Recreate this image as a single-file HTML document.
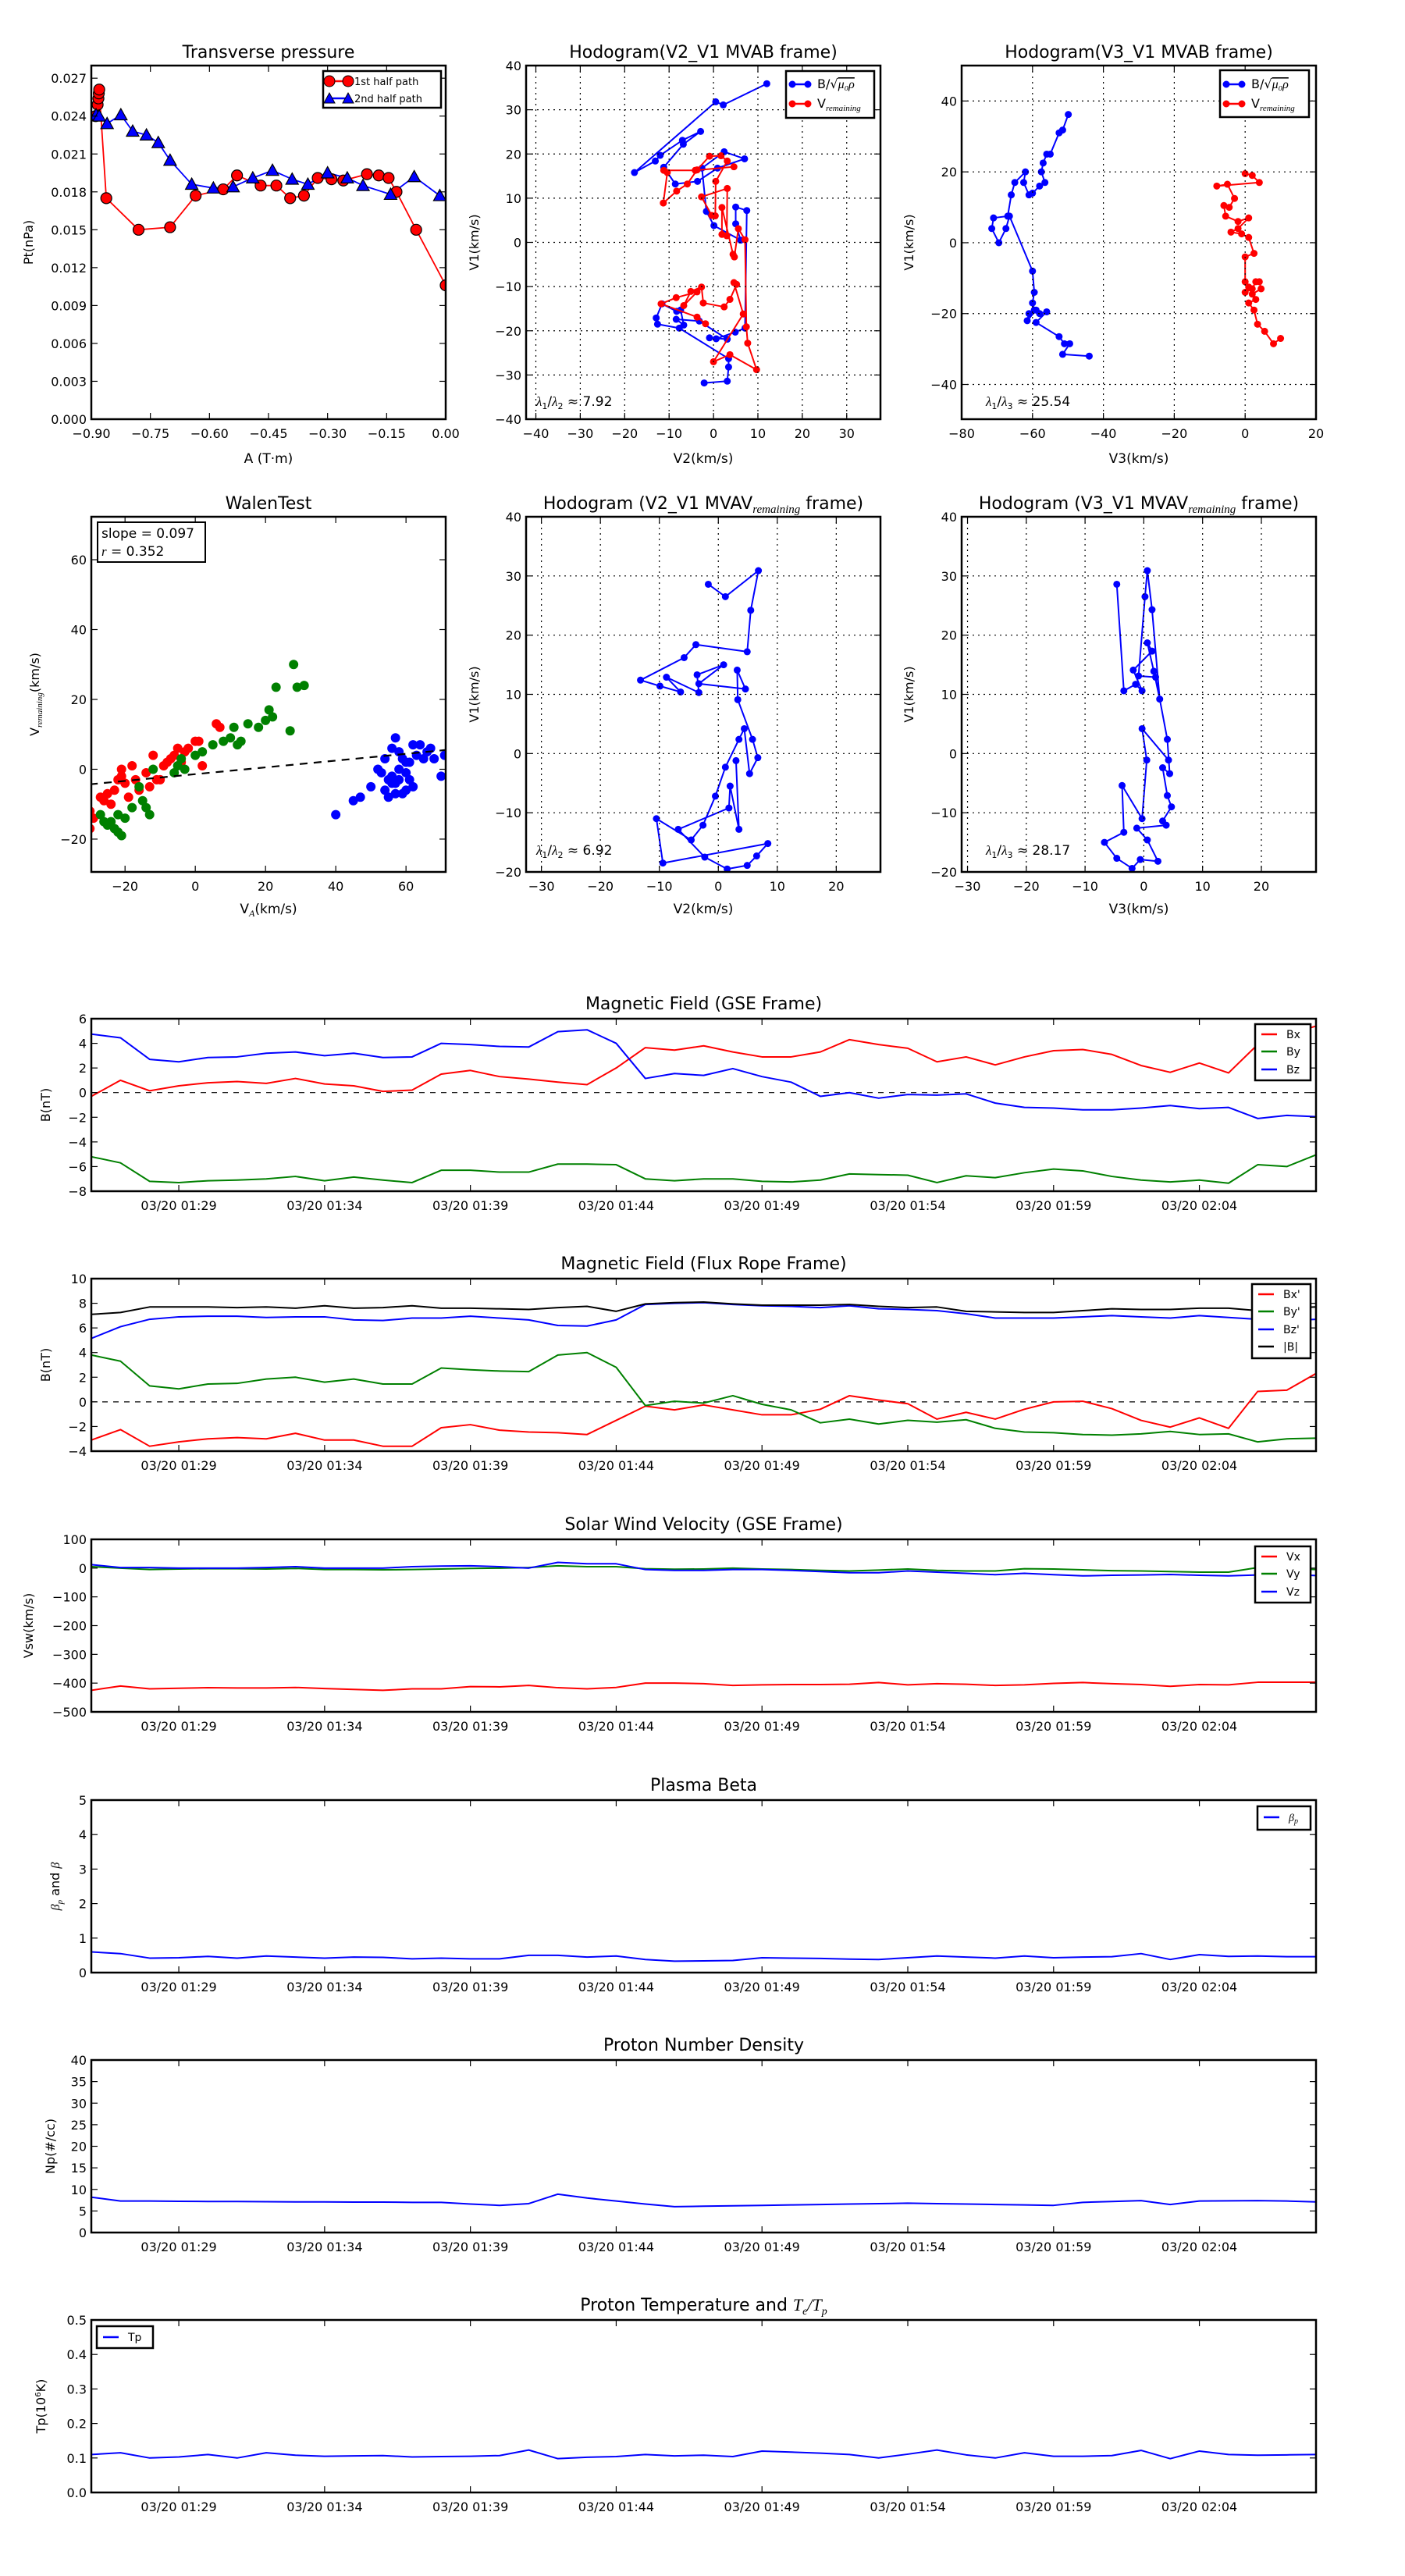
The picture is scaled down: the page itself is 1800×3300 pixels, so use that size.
<!DOCTYPE html>
<html><head><meta charset="utf-8">
<style>
html,body{margin:0;padding:0;background:#fff;}
svg{display:block;font-family:"DejaVu Sans","Liberation Sans",sans-serif;}
</style></head>
<body>
<svg id="fig" width="1800" height="3300" viewBox="0 0 1800 3300" xmlns="http://www.w3.org/2000/svg">
<rect x="0" y="0" width="1800" height="3300" fill="#fff"/>
</svg>
<script>
// ===== Data =====
const timeTicks=[3,8,13,18,23,28,33,38];
const timeLabels=["03/20 01:29","03/20 01:34","03/20 01:39","03/20 01:44","03/20 01:49","03/20 01:54","03/20 01:59","03/20 02:04"];
const bxGse=[-0.3,1.0,0.15,0.55,0.8,0.9,0.75,1.15,0.7,0.55,0.1,0.2,1.5,1.8,1.3,1.1,0.85,0.65,2.0,3.65,3.45,3.8,3.3,2.9,2.9,3.3,4.3,3.9,3.6,2.5,2.9,2.25,2.9,3.4,3.5,3.1,2.2,1.65,2.4,1.6,3.9,4.7,5.4];
const byGse=[-5.2,-5.7,-7.2,-7.3,-7.15,-7.1,-7.0,-6.8,-7.15,-6.85,-7.1,-7.3,-6.3,-6.3,-6.45,-6.45,-5.8,-5.8,-5.85,-7.0,-7.15,-7.0,-7.0,-7.2,-7.25,-7.1,-6.6,-6.65,-6.7,-7.3,-6.75,-6.9,-6.5,-6.2,-6.35,-6.8,-7.1,-7.25,-7.1,-7.35,-5.85,-6.0,-5.05];
const bzGse=[4.75,4.45,2.7,2.5,2.85,2.9,3.2,3.3,3.0,3.2,2.85,2.9,4.0,3.9,3.75,3.7,4.95,5.1,4.0,1.15,1.55,1.4,1.95,1.3,0.85,-0.3,0.0,-0.45,-0.15,-0.2,-0.1,-0.85,-1.2,-1.25,-1.4,-1.4,-1.25,-1.05,-1.3,-1.2,-2.1,-1.85,-1.95];
const bxFr=[-3.1,-2.25,-3.6,-3.25,-3.0,-2.9,-3.0,-2.55,-3.1,-3.1,-3.6,-3.6,-2.1,-1.85,-2.3,-2.45,-2.5,-2.65,-1.5,-0.35,-0.65,-0.25,-0.65,-1.05,-1.05,-0.6,0.5,0.15,-0.15,-1.4,-0.85,-1.4,-0.6,0.0,0.05,-0.55,-1.5,-2.05,-1.3,-2.15,0.85,0.95,2.3];
const byFr=[3.8,3.3,1.3,1.05,1.45,1.5,1.85,2.0,1.6,1.85,1.45,1.45,2.75,2.6,2.5,2.45,3.8,4.0,2.8,-0.3,0.05,-0.1,0.5,-0.2,-0.65,-1.7,-1.4,-1.8,-1.5,-1.65,-1.45,-2.15,-2.45,-2.5,-2.65,-2.7,-2.6,-2.4,-2.65,-2.6,-3.25,-3.0,-2.95];
const bzFr=[5.15,6.1,6.7,6.9,6.95,6.95,6.85,6.9,6.9,6.65,6.6,6.8,6.8,6.95,6.8,6.65,6.2,6.15,6.65,7.9,8.0,8.05,7.9,7.8,7.75,7.65,7.8,7.55,7.5,7.4,7.15,6.8,6.8,6.8,6.9,7.0,6.9,6.8,7.0,6.85,6.7,6.6,6.7];
const bMag=[7.1,7.25,7.7,7.7,7.7,7.65,7.7,7.6,7.8,7.6,7.65,7.8,7.6,7.6,7.55,7.5,7.65,7.75,7.35,7.95,8.05,8.1,7.95,7.85,7.85,7.85,7.9,7.75,7.65,7.7,7.35,7.3,7.25,7.25,7.4,7.55,7.5,7.5,7.6,7.6,7.4,7.6,7.7];
const vx=[-425,-410,-420,-418,-416,-417,-417,-415,-419,-422,-425,-420,-420,-412,-413,-408,-416,-420,-415,-400,-400,-402,-408,-406,-405,-405,-404,-398,-406,-402,-404,-408,-406,-401,-398,-402,-405,-411,-405,-406,-397,-397,-397];
const vy=[5,0,-5,-3,-2,-2,-3,-1,-5,-5,-6,-5,-3,-1,0,2,8,5,5,-2,-4,-3,0,-3,-5,-8,-10,-7,-3,-8,-10,-10,-2,-3,-6,-9,-10,-12,-14,-14,2,-2,-5];
const vz=[12,2,2,0,0,0,2,5,0,0,0,5,7,8,5,0,20,15,15,-5,-8,-8,-5,-5,-8,-12,-16,-16,-10,-14,-18,-23,-18,-23,-27,-25,-24,-22,-25,-27,-24,-22,-26];
const betaP=[0.6,0.55,0.42,0.43,0.47,0.42,0.48,0.45,0.42,0.45,0.44,0.4,0.42,0.4,0.4,0.5,0.5,0.45,0.48,0.38,0.33,0.34,0.35,0.43,0.42,0.41,0.39,0.38,0.43,0.48,0.45,0.42,0.48,0.43,0.45,0.46,0.55,0.38,0.52,0.47,0.48,0.46,0.46];
const np=[8.2,7.3,7.3,7.25,7.2,7.2,7.15,7.1,7.1,7.05,7.05,7.0,7.0,6.6,6.3,6.7,8.9,8.0,7.3,6.6,6.0,6.1,6.2,6.3,6.4,6.5,6.6,6.7,6.8,6.7,6.6,6.5,6.4,6.3,7.0,7.2,7.4,6.5,7.3,7.35,7.4,7.3,7.1];
const tp=[0.11,0.115,0.10,0.103,0.11,0.10,0.115,0.108,0.105,0.106,0.107,0.103,0.104,0.105,0.107,0.123,0.098,0.102,0.104,0.11,0.106,0.108,0.104,0.12,0.117,0.114,0.11,0.10,0.111,0.123,0.109,0.10,0.115,0.105,0.105,0.107,0.122,0.098,0.12,0.11,0.108,0.109,0.11];

// Transverse pressure
const ptRedA=[-0.889,-0.884,-0.882,-0.881,-0.880,-0.862,-0.780,-0.700,-0.635,-0.565,-0.530,-0.470,-0.430,-0.395,-0.360,-0.325,-0.290,-0.260,-0.200,-0.170,-0.145,-0.125,-0.075,0.0];
const ptRedP=[0.0240,0.0249,0.0254,0.0258,0.0261,0.0175,0.0150,0.0152,0.0177,0.0182,0.0193,0.0185,0.0185,0.0175,0.0177,0.0191,0.0190,0.0189,0.0194,0.0193,0.0191,0.0180,0.0150,0.0106];
const ptBlueA=[-0.888,-0.880,-0.860,-0.825,-0.795,-0.760,-0.730,-0.700,-0.645,-0.590,-0.540,-0.490,-0.440,-0.390,-0.350,-0.300,-0.250,-0.210,-0.140,-0.080,-0.015];
const ptBlueP=[0.0241,0.0240,0.0234,0.0241,0.0228,0.0225,0.0219,0.0205,0.0186,0.0183,0.0184,0.0191,0.0197,0.0190,0.0186,0.0195,0.0191,0.0185,0.0178,0.0192,0.0177];

// Hodogram V2-V1 MVAB
const h1BlueV2=[12,2.2,0.5,-17.8,-13.1,-12,-7,-2.9,-6.8,-11.2,-8.6,-3.6,0.9,7,2.4,-2.6,-1.6,0.1,6.1,5,5,7.5,7.1,4.9,0.6,-0.9,3.1,-3.2,-8.4,-6.7,-7.4,-8.3,-11.6,-12.9,-12.6,-7.7,3.4,3.4,3.1,-2.1];
const h1BlueV1=[35.9,31.1,31.8,15.8,18.4,19.7,23.1,25.1,22.2,17,13.2,13.8,16.8,18.9,20.5,16.8,7,3.8,0.5,4.2,8,7.2,-19.4,-20.3,-21.8,-21.6,-21.9,-17.8,-17.4,-18.7,-15.3,-15.6,-13.9,-17.1,-18.5,-19.4,-26.3,-28.2,-31.4,-31.8];
const h1RedV2=[4.6,-4.1,-11.2,-10.4,-11.3,-8.3,-5.9,-3.7,-0.9,1.7,3.1,0.5,0.4,-0.4,-2.7,3.1,3,1.9,1.9,4.4,4.7,5.6,7.1,7.4,7.7,9.7,3.7,0,6.7,4.6,5.2,3.7,2.4,-2.3,-2.7,-5.1,-6.7,-3.7,-8.4,-11.8,-3.7,-1.8];
const h1RedV1=[17.1,16.3,16.3,15.8,8.9,11.6,13.2,16.4,19.5,19.6,18.4,13.8,6,6.1,10.3,12.2,1.5,1.8,7.9,-2.7,-3.3,3.1,0.6,-19.1,-22.8,-28.8,-25.4,-27,-16.2,-9.1,-9.5,-12.9,-14.6,-13.7,-10.1,-11.1,-14.3,-11.2,-12.5,-13.9,-16.9,-18.4];

// Hodogram V3-V1 MVAB
const h2BlueV3=[-49.9,-51.5,-52.5,-55,-56,-57,-57.5,-56.5,-58,-60,-61,-62.5,-62,-65,-66,-67,-71,-71.5,-69.5,-67.5,-66.5,-60,-59.5,-60,-59.5,-61,-61.5,-59,-58,-56,-59,-52.5,-51,-49.5,-51.5,-44];
const h2BlueV1=[36.2,31.8,31,25,25,22.5,20,17,16,14,13.5,17,20,17,13.5,7.5,7,4,0,4,7.5,-8,-14,-17,-19,-20,-22,-19,-20,-19.5,-22.5,-26.5,-28.5,-28.5,-31.5,-32];
const h2RedV3=[0,2,4,-8,-5,-3,-4.5,-6,-5.5,-2,1,-2,-4,-1,1,2.5,0,0,1,0,2,3,4,4.5,2,3,1,2.5,3.5,5.5,8,10];
const h2RedV1=[19.5,19,17,16,16.5,12.5,10,10.5,7.5,6,7,4,3,2.5,1.5,-3,-4,-11,-12.5,-14,-13,-11,-11,-13,-14.5,-16,-17,-19,-23,-25,-28.5,-27];

// Walen test
const walenRedX=[-30,-29,-30,-27,-26,-25,-24,-23,-22,-21,-20,-19,-18,-17,-16,-14,-13,-12,-10,-9,-8,-7,-6,-5,-4,-3,-2,0,1,2,6,7,-21,-11];
const walenRedY=[-12,-14,-17,-8,-9,-7,-10,-6,-3,0,-4,-8,1,-3,-6,-1,-5,4,-3,1,2,3,4,6,2,5,6,8,8,1,13,12,-2,-3];
const walenGreenX=[-27,-26,-25,-24,-23,-22,-21,-22,-20,-18,-16,-15,-14,-13,-12,-6,-5,-3,-4,0,2,5,8,10,11,12,13,15,18,20,21,22,23,27,28,29,31];
const walenGreenY=[-13,-15,-16,-15,-17,-18,-19,-13,-14,-11,-5,-9,-11,-13,0,-1,1,0,3,4,5,7,8,9,12,7,8,13,12,14,17,15,23.5,11,30,23.5,24];
const walenBlueX=[40,45,47,50,53,54,55,56,56,57,57,58,58,59,60,60,61,62,62,63,64,65,66,67,68,70,71,72,54,55,57,59,58,56,60,61,52];
const walenBlueY=[-13,-9,-8,-5,-1,3,-3,6,-2,9,-4,0,5,3,-1,-6,2,7,-5,4,7,3,5,6,3,-2,4,4,-6,-8,-7,-7,-3,-4,2,-3,0];
const walenSlope=[0.097];
const walenIntercept=[-1.4];

// Hodogram MVAV remaining
const h3V2=[-1.7,1.2,6.8,5.5,4.9,-3.8,-5.8,-13.2,-9.9,-6.4,-8.8,-3.3,-3.6,0.9,-3.3,4.6,3.2,3.3,5.8,6.7,5.3,4.4,3.5,1.2,-0.5,-2.6,-4.6,-10.5,-9.4,8.4,6.5,4.9,1.5,-2.3,-6.8,1.8,2,3.5,3];
const h3V1=[28.6,26.5,30.9,24.2,17.2,18.4,16.2,12.4,11.4,10.4,12.9,10.3,13.3,15,11.8,10.9,14.1,9.1,2.4,-0.7,-3.4,4.2,2.4,-2.3,-7.2,-12.1,-14.6,-11,-18.5,-15.2,-17.3,-18.9,-19.5,-17.5,-12.8,-9.2,-5.5,-12.8,-1.2];
const h4V3=[-4.6,-3.4,-1.4,-0.3,-1.8,1.4,0.6,1.7,2.7,1.4,0.6,0.2,-0.9,2,4,4.4,3.2,4,4.7,3.2,3.8,-1.2,0.6,2.4,-0.6,-2,-4.6,-6.7,-3.4,-3.7,-0.3,0.5,-0.3,4.2];
const h4V1=[28.6,10.6,11.7,10.6,14.1,17.3,18.7,13.9,9.2,24.3,30.9,26.5,13.1,12.9,2.4,-3.4,-2.4,-7.1,-9,-11.4,-12.1,-12.6,-14.6,-18.2,-17.9,-19.4,-17.7,-15,-13.3,-5.4,-11,-1.1,4.2,-1.1];

// ===== Helpers =====
const NS='http://www.w3.org/2000/svg';
const svg=document.getElementById('fig');
function el(tag,attrs,parent){const e=document.createElementNS(NS,tag);for(const k in attrs)e.setAttribute(k,attrs[k]);(parent||svg).appendChild(e);return e;}
const MINUS='\u2212';
function fmt(v,d){const s=Math.abs(v).toFixed(d);return (v<0?MINUS:'')+s;}
let clipId=0;
function makeAxes(name,x0,y0,x1,y1,xmin,xmax,ymin,ymax){
  const g=el('g',{});
  
  
  const id='clip'+(clipId++);
  const cp=el('clipPath',{id:id},g);
  el('rect',{x:x0,y:y0,width:x1-x0,height:y1-y0},cp);
  const plot=el('g',{'clip-path':'url(#'+id+')'},g);
  
  
  return {g,plot,x0,y0,x1,y1,sx:v=>x0+(v-xmin)/(xmax-xmin)*(x1-x0),sy:v=>y1-(v-ymin)/(ymax-ymin)*(y1-y0)};
}
function ticks(ax,xt,xl,yt,yl,grid){
  const tg=el('g',{stroke:'#000','stroke-width':1.2},ax.g);
  
  
  const L=8;
  xt.forEach((v,i)=>{const x=ax.sx(v);
    if(grid){const gl=el('line',{x1:x,x2:x,y1:ax.y0,y2:ax.y1,'stroke-dasharray':'2,5'},tg);
      
      }
    el('line',{x1:x,x2:x,y1:ax.y1,y2:ax.y1-L},tg);
    el('line',{x1:x,x2:x,y1:ax.y0,y2:ax.y0+L},tg);
    const t=el('text',{x:x,y:ax.y1+24,'text-anchor':'middle','font-size':16,fill:'#000',stroke:'none'},ax.g);
    t.textContent=xl[i];
    
    
  });
  yt.forEach((v,i)=>{const y=ax.sy(v);
    if(grid){const gl=el('line',{x1:ax.x0,x2:ax.x1,y1:y,y2:y,'stroke-dasharray':'2,5'},tg);
      
      }
    el('line',{x1:ax.x0,x2:ax.x0+L,y1:y,y2:y},tg);
    el('line',{x1:ax.x1,x2:ax.x1-L,y1:y,y2:y},tg);
    const t=el('text',{x:ax.x0-6,y:y+6,'text-anchor':'end','font-size':16,fill:'#000',stroke:'none'},ax.g);
    t.textContent=yl[i];
    
    
  });
}
function frame(ax){
  const r=el('rect',{x:ax.x0,y:ax.y0,width:ax.x1-ax.x0,height:ax.y1-ax.y0,fill:'none',stroke:'#000','stroke-width':2.5},ax.g);
  
  
}
function title(ax,html,dy){
  const t=el('text',{x:(ax.x0+ax.x1)/2,y:ax.y0-(dy||10),'text-anchor':'middle','font-size':22,fill:'#000'},ax.g);
  t.innerHTML=html;
  
  
}
function xlabel(ax,html,y){
  const t=el('text',{x:(ax.x0+ax.x1)/2,y:y,'text-anchor':'middle','font-size':17,fill:'#000'},ax.g);
  t.innerHTML=html;
  
  
}
function ylabel(ax,html,x){
  const cy=(ax.y0+ax.y1)/2;
  const t=el('text',{x:x,y:cy,'text-anchor':'middle','font-size':16,fill:'#000',transform:'rotate(-90 '+x+' '+cy+')'},ax.g);
  t.innerHTML=html;
  
  
}
function polyline(ax,xs,ys,color,name,w,dash){
  let d='';
  xs.forEach((v,i)=>{d+=(i?'L':'M')+ax.sx(v).toFixed(2)+','+ax.sy(ys[i]).toFixed(2);});
  const attrs={d:d,fill:'none',stroke:color,'stroke-width':w||2,'stroke-linejoin':'round'};
  if(dash)attrs['stroke-dasharray']=dash;
  const p=el('path',attrs,ax.plot);
  
  
  return p;
}
function dots(ax,xs,ys,color,r,name,edge){
  const g=el('g',{},ax.plot);
  
  
  xs.forEach((v,i)=>{
    const c=el('circle',{cx:ax.sx(v),cy:ax.sy(ys[i]),r:r,fill:color,stroke:edge||color,'stroke-width':edge?1.2:0},g);
    
    
  });
}
function tris(ax,xs,ys,color,s,name){
  const g=el('g',{},ax.plot);
  
  
  xs.forEach((v,i)=>{const x=ax.sx(v),y=ax.sy(ys[i]);
    const p=el('polygon',{points:(x)+','+(y-s)+' '+(x-s)+','+(y+s*0.8)+' '+(x+s)+','+(y+s*0.8),fill:color,stroke:'#000','stroke-width':1.2},g);
    
    
  });
}
function legendBox(parent,x,y,w,h,entries,lineLen,fs,gap){
  const g=el('g',{},parent);
  
  
  el('rect',{x:x,y:y,width:w,height:h,fill:'#fff',stroke:'#000','stroke-width':2.5},g);
  entries.forEach(e=>{
    const eg=el('g',{},g);
    
    
    el('line',{x1:x+8,x2:x+8+lineLen,y1:e.y,y2:e.y,stroke:e.color,'stroke-width':2.5},eg);
    if(e.marker==='o'){el('circle',{cx:x+8,cy:e.y,r:e.r||4,fill:e.color,stroke:e.edge||e.color},eg);el('circle',{cx:x+8+lineLen,cy:e.y,r:e.r||4,fill:e.color,stroke:e.edge||e.color},eg);}
    if(e.marker==='^'){[x+8,x+8+lineLen].forEach(cx=>el('polygon',{points:cx+','+(e.y-7)+' '+(cx-7)+','+(e.y+6)+' '+(cx+7)+','+(e.y+6),fill:e.color,stroke:'#000'},eg));}
    const t=el('text',{x:x+lineLen+(gap||20),y:e.y+5,'font-size':fs||14,fill:'#000'},eg);
    t.innerHTML=e.label;
  });
}
function plainText(parent,x,y,html,fs,name){
  const t=el('text',{x:x,y:y,'font-size':fs,fill:'#000'},parent);
  t.innerHTML=html;
  
  
}
const IT='font-family="Liberation Serif,DejaVu Serif,serif" font-style="italic"';
const minutes=bxGse.map((_,i)=>i);

// ===== Top row =====
(function(){
  const ax=makeAxes('transverse-pressure-chart',117,84,571,537,-0.9,0.0,0,0.028);
  const xt=[-0.9,-0.75,-0.6,-0.45,-0.3,-0.15,0];
  const yt=[0,0.003,0.006,0.009,0.012,0.015,0.018,0.021,0.024,0.027];
  ticks(ax,xt,xt.map(v=>fmt(v,2)),yt,yt.map(v=>fmt(v,3)),false);
  polyline(ax,ptRedA,ptRedP,'#f00','first-half-path-line',1.8);
  polyline(ax,ptBlueA,ptBlueP,'#00f','second-half-path-line',1.8);
  dots(ax,ptRedA,ptRedP,'#f00',7,'first-half-path','#000');
  tris(ax,ptBlueA,ptBlueP,'#00f',8,'second-half-path');
  frame(ax);
  title(ax,'Transverse pressure');
  xlabel(ax,'A (T·m)',593);
  ylabel(ax,'Pt(nPa)',42);
  legendBox(ax.g,414,91,151,47,[
    {label:'1st half path',color:'#f00',marker:'o',r:7,edge:'#000',y:104},
    {label:'2nd half path',color:'#00f',marker:'^',y:126}],24,13,16);
})();
(function(){
  const ax=makeAxes('hodogram-v2-v1-mvab',674,84,1128,537,-42.2,37.6,-40,40);
  const xt=[-40,-30,-20,-10,0,10,20,30], yt=[-40,-30,-20,-10,0,10,20,30,40];
  ticks(ax,xt,xt.map(v=>fmt(v,0)),yt,yt.map(v=>fmt(v,0)),true);
  polyline(ax,h1BlueV2,h1BlueV1,'#00f','b-alfven-path',2);
  dots(ax,h1BlueV2,h1BlueV1,'#00f',4.5,'b-alfven');
  polyline(ax,h1RedV2,h1RedV1,'#f00','v-remaining-path',2);
  dots(ax,h1RedV2,h1RedV1,'#f00',4.5,'v-remaining');
  frame(ax);
  title(ax,'Hodogram(V2_V1 MVAB frame)');
  xlabel(ax,'V2(km/s)',593);
  ylabel(ax,'V1(km/s)',613);
  legendBox(ax.g,1007,91,113,60,[
    {label:'B/√<tspan '+IT+' text-decoration="overline">μ₀ρ</tspan>',color:'#00f',marker:'o',y:108},
    {label:'V<tspan '+IT+' font-size="11" dy="4">remaining</tspan>',color:'#f00',marker:'o',y:133}],20,16);
  plainText(ax.g,687,520,'<tspan '+IT+'>λ</tspan><tspan font-size="11" dy="4">1</tspan><tspan dy="-4">/</tspan><tspan '+IT+'>λ</tspan><tspan font-size="11" dy="4">2</tspan><tspan dy="-4"> ≈ 7.92</tspan>',17,'eigenvalue-ratio');
})();
(function(){
  const ax=makeAxes('hodogram-v3-v1-mvab',1232,84,1686,537,-80,20,-49.8,50);
  const xt=[-80,-60,-40,-20,0,20], yt=[-40,-20,0,20,40];
  ticks(ax,xt,xt.map(v=>fmt(v,0)),yt,yt.map(v=>fmt(v,0)),true);
  polyline(ax,h2BlueV3,h2BlueV1,'#00f','b-alfven-path',2);
  dots(ax,h2BlueV3,h2BlueV1,'#00f',4.5,'b-alfven');
  polyline(ax,h2RedV3,h2RedV1,'#f00','v-remaining-path',2);
  dots(ax,h2RedV3,h2RedV1,'#f00',4.5,'v-remaining');
  frame(ax);
  title(ax,'Hodogram(V3_V1 MVAB frame)');
  xlabel(ax,'V3(km/s)',593);
  ylabel(ax,'V1(km/s)',1170);
  legendBox(ax.g,1563,90,114,60,[
    {label:'B/√<tspan '+IT+' text-decoration="overline">μ₀ρ</tspan>',color:'#00f',marker:'o',y:108},
    {label:'V<tspan '+IT+' font-size="11" dy="4">remaining</tspan>',color:'#f00',marker:'o',y:133}],20,16);
  plainText(ax.g,1263,520,'<tspan '+IT+'>λ</tspan><tspan font-size="11" dy="4">1</tspan><tspan dy="-4">/</tspan><tspan '+IT+'>λ</tspan><tspan font-size="11" dy="4">3</tspan><tspan dy="-4"> ≈ 25.54</tspan>',17,'eigenvalue-ratio');
})();

// ===== Second row =====
(function(){
  const ax=makeAxes('walen-test-chart',117,662,571,1117,-29.6,71.3,-29.4,72.3);
  const xt=[-20,0,20,40,60], yt=[-20,0,20,40,60];
  ticks(ax,xt,xt.map(v=>fmt(v,0)),yt,yt.map(v=>fmt(v,0)),false);
  dots(ax,walenRedX,walenRedY,'#f00',6,'walen-red-points');
  dots(ax,walenGreenX,walenGreenY,'#008000',6,'walen-green-points');
  dots(ax,walenBlueX,walenBlueY,'#00f',6,'walen-blue-points');
  const fx=[-30,72], fy=fx.map(v=>walenSlope[0]*v+walenIntercept[0]);
  polyline(ax,fx,fy,'#000','walen-fit-line',2.2,'10,8');
  frame(ax);
  title(ax,'WalenTest');
  xlabel(ax,'V<tspan '+IT+' font-size="12" dy="4">A</tspan><tspan dy="-4">(km/s)</tspan>',1170);
  ylabel(ax,'V<tspan '+IT+' font-size="11" dy="4">remaining</tspan><tspan dy="-4">(km/s)</tspan>',50);
  const bg=el('g',{},ax.g);
  
  
  el('rect',{x:125,y:669,width:138,height:51,fill:'#fff',stroke:'#000','stroke-width':2},bg);
  plainText(bg,130,689,'slope = 0.097',17,'slope-text');
  plainText(bg,130,712,'<tspan '+IT+'>r</tspan> = 0.352',17,'r-text');
})();
(function(){
  const ax=makeAxes('hodogram-v2-v1-mvav',674,662,1128,1117,-32.6,27.5,-20,40);
  const xt=[-30,-20,-10,0,10,20], yt=[-20,-10,0,10,20,30,40];
  ticks(ax,xt,xt.map(v=>fmt(v,0)),yt,yt.map(v=>fmt(v,0)),true);
  polyline(ax,h3V2,h3V1,'#00f','hodogram-path',2);
  dots(ax,h3V2,h3V1,'#00f',4.5,'hodogram-points');
  frame(ax);
  title(ax,'Hodogram (V2_V1 MVAV<tspan '+IT+' font-size="15" dy="5">remaining</tspan><tspan dy="-5"> frame)</tspan>');
  xlabel(ax,'V2(km/s)',1170);
  ylabel(ax,'V1(km/s)',613);
  plainText(ax.g,687,1095,'<tspan '+IT+'>λ</tspan><tspan font-size="11" dy="4">1</tspan><tspan dy="-4">/</tspan><tspan '+IT+'>λ</tspan><tspan font-size="11" dy="4">2</tspan><tspan dy="-4"> ≈ 6.92</tspan>',17,'eigenvalue-ratio');
})();
(function(){
  const ax=makeAxes('hodogram-v3-v1-mvav',1232,662,1686,1117,-31,29.3,-20,40);
  const xt=[-30,-20,-10,0,10,20], yt=[-20,-10,0,10,20,30,40];
  ticks(ax,xt,xt.map(v=>fmt(v,0)),yt,yt.map(v=>fmt(v,0)),true);
  polyline(ax,h4V3,h4V1,'#00f','hodogram-path',2);
  dots(ax,h4V3,h4V1,'#00f',4.5,'hodogram-points');
  frame(ax);
  title(ax,'Hodogram (V3_V1 MVAV<tspan '+IT+' font-size="15" dy="5">remaining</tspan><tspan dy="-5"> frame)</tspan>');
  xlabel(ax,'V3(km/s)',1170);
  ylabel(ax,'V1(km/s)',1170);
  plainText(ax.g,1263,1095,'<tspan '+IT+'>λ</tspan><tspan font-size="11" dy="4">1</tspan><tspan dy="-4">/</tspan><tspan '+IT+'>λ</tspan><tspan font-size="11" dy="4">3</tspan><tspan dy="-4"> ≈ 28.17</tspan>',17,'eigenvalue-ratio');
})();

// ===== Time series =====
function timePanel(name,top,ymin,ymax,yt,yd,series,ttl,ylab,ylabX,zero){
  const ax=makeAxes(name,117,top,1686,top+221,0,42,ymin,ymax);
  ticks(ax,timeTicks,timeLabels,yt,yt.map(v=>fmt(v,yd)),false);
  if(zero)polyline(ax,[0,42],[0,0],'#000','zero-line',1.2,'7,7');
  series.forEach(s=>polyline(ax,minutes,s.data,s.color,s.name,2));
  frame(ax);
  title(ax,ttl,12);
  ylabel(ax,ylab,ylabX);
  return ax;
}
(function(){
  const ax=timePanel('magnetic-field-gse-chart',1305,-8,6,[-8,-6,-4,-2,0,2,4,6],0,
    [{data:bxGse,color:'#f00',name:'bx-line'},{data:byGse,color:'#008000',name:'by-line'},{data:bzGse,color:'#00f',name:'bz-line'}],
    'Magnetic Field (GSE Frame)','B(nT)',64,true);
  legendBox(ax.g,1608,1312,71,72,[{label:'Bx',color:'#f00',y:1325},{label:'By',color:'#008000',y:1347},{label:'Bz',color:'#00f',y:1370}],20,14);
})();
(function(){
  const ax=timePanel('magnetic-field-flux-rope-chart',1638,-4,10,[-4,-2,0,2,4,6,8,10],0,
    [{data:bxFr,color:'#f00',name:'bx-prime-line'},{data:byFr,color:'#008000',name:'by-prime-line'},{data:bzFr,color:'#00f',name:'bz-prime-line'},{data:bMag,color:'#000',name:'b-magnitude-line'}],
    'Magnetic Field (Flux Rope Frame)','B(nT)',64,true);
  legendBox(ax.g,1604,1645,75,95,[{label:"Bx'",color:'#f00',y:1658},{label:"By'",color:'#008000',y:1680},{label:"Bz'",color:'#00f',y:1703},{label:'|B|',color:'#000',y:1725}],20,14);
})();
(function(){
  const ax=timePanel('solar-wind-velocity-chart',1972,-500,100,[-500,-400,-300,-200,-100,0,100],0,
    [{data:vx,color:'#f00',name:'vx-line'},{data:vy,color:'#008000',name:'vy-line'},{data:vz,color:'#00f',name:'vz-line'}],
    'Solar Wind Velocity (GSE Frame)','Vsw(km/s)',42,false);
  legendBox(ax.g,1608,1981,71,72,[{label:'Vx',color:'#f00',y:1994},{label:'Vy',color:'#008000',y:2016},{label:'Vz',color:'#00f',y:2039}],20,14);
})();
(function(){
  const ax=timePanel('plasma-beta-chart',2306,0,5,[0,1,2,3,4,5],0,
    [{data:betaP,color:'#00f',name:'beta-p-line'}],
    'Plasma Beta','<tspan '+IT+'>β</tspan><tspan '+IT+' font-size="11" dy="4">p</tspan><tspan dy="-4"> and </tspan><tspan '+IT+'>β</tspan>',76,false);
  legendBox(ax.g,1611,2314,68,30,[{label:'<tspan '+IT+'>β</tspan><tspan '+IT+' font-size="10" dy="3">p</tspan>',color:'#00f',y:2328}],20,14);
})();
(function(){
  timePanel('proton-density-chart',2639,0,40,[0,5,10,15,20,25,30,35,40],0,
    [{data:np,color:'#00f',name:'np-line'}],
    'Proton Number Density','Np(#/cc)',70,false);
})();
(function(){
  const ax=timePanel('proton-temperature-chart',2972,0,0.5,[0,0.1,0.2,0.3,0.4,0.5],1,
    [{data:tp,color:'#00f',name:'tp-line'}],
    'Proton Temperature and <tspan '+IT+'>T</tspan><tspan '+IT+' font-size="14" dy="5">e</tspan><tspan dy="-5" '+IT+'>/T</tspan><tspan '+IT+' font-size="14" dy="5">p</tspan>','Tp(10<tspan font-size="10" dy="-6">6</tspan><tspan dy="6">K)</tspan>',58,false);
  legendBox(ax.g,124,2980,72,28,[{label:'Tp',color:'#00f',y:2994}],20,14);
})();
</script>
</body></html>
